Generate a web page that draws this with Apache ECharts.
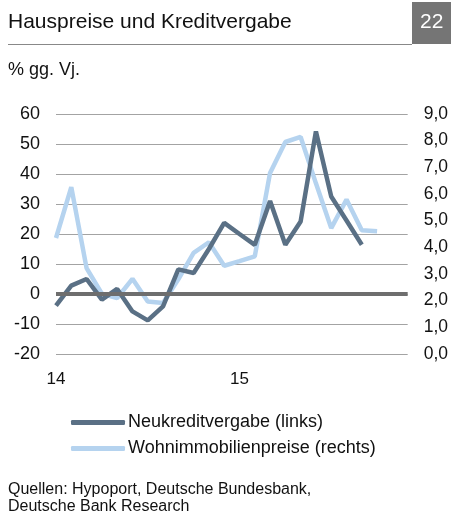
<!DOCTYPE html>
<html>
<head>
<meta charset="utf-8">
<script src="https://cdn.jsdelivr.net/npm/echarts@6/dist/echarts.min.js"></script>
<style>
  html, body { margin: 0; padding: 0; background: #fff; }
  #chart { width: 451px; height: 513px; }
</style>
</head>
<body>
<div id="chart"></div>
<script>
// Monate Jan 2014 - Dez 2015
const months = ["14", "", "", "", "", "", "", "", "", "", "", "",
  "15", "", "", "", "", "", "", "", "", "", "", ""];
// Neukreditvergabe, % gg. Vj. (linke Achse)
const neukredit = [-3.9, 2.8, 5.0, -1.9, 1.7, -5.8, -8.8, -4.1, 8.2, 7.0, 15.0, 23.7,
  20.0, 16.4, 31.0, 16.4, 24.2, 54.2, 32.5, 24.5, 16.4];
// Wohnimmobilienpreise, % gg. Vj. (rechte Achse)
const wohnpreise = [4.35, 6.26, 3.22, 2.26, 2.1, 2.82, 1.97, 1.91, 2.8, 3.79, 4.19, 3.31,
  3.48, 3.66, 6.79, 7.95, 8.14, 6.4, 4.72, 5.79, 4.64, 4.6];
const leftTicks = [-20, 60, 10];
const rightTicks = [0, 9, 1];

const font = "'Liberation Sans', Arial, sans-serif";
const chart = echarts.init(document.getElementById("chart"));
chart.setOption({
  animation: false,
  textStyle: { fontFamily: font },
  grid: { left: 56, right: 43, top: 114, bottom: 159 },
  graphic: [
    { type: "text", left: 8, top: 12, style: { text: "Hauspreise und Kreditvergabe", font: "21px " + font, fill: "#111" } },
    { type: "rect", shape: { x: 412, y: 2, width: 39, height: 42 }, style: { fill: "#757575" } },
    { type: "text", left: 420, top: 12, style: { text: "22", font: "21px " + font, fill: "#fff" } },
    { type: "line", shape: { x1: 8, y1: 44.5, x2: 412, y2: 44.5 }, style: { stroke: "#888", lineWidth: 1 } },
    { type: "text", left: 8, top: 61, style: { text: "% gg. Vj.", font: "18px " + font, fill: "#111" } },
    { type: "text", left: 8, top: 481, style: { text: "Quellen: Hypoport, Deutsche Bundesbank,\nDeutsche Bank Research", font: "16px " + font, fill: "#111", lineHeight: 17 } }
  ],
  legend: {
    orient: "vertical",
    left: 66,
    top: 408,
    itemWidth: 54,
    itemHeight: 5,
    itemGap: 7,
    icon: "roundRect",
    textStyle: { fontSize: 18, lineHeight: 19, color: "#111", fontFamily: font, padding: [0, 0, 0, -2] },
    data: ["Neukreditvergabe (links)", "Wohnimmobilienpreise (rechts)"]
  },
  xAxis: {
    type: "category",
    data: months,
    boundaryGap: false,
    axisLine: { show: false },
    axisTick: { show: false },
    axisLabel: { interval: 0, color: "#111", fontSize: 17, margin: 17 },
    splitLine: { show: false }
  },
  yAxis: [
    {
      type: "value",
      min: leftTicks[0], max: leftTicks[1], interval: leftTicks[2],
      axisLine: { show: false },
      axisTick: { show: false },
      axisLabel: { color: "#111", fontSize: 18, margin: 16 },
      splitLine: { lineStyle: { color: "#a3a3a3", width: 1 } }
    },
    {
      type: "value",
      min: rightTicks[0], max: rightTicks[1], interval: rightTicks[2],
      position: "right",
      axisLine: { show: false },
      axisTick: { show: false },
      axisLabel: {
        color: "#111", fontSize: 17.5, margin: 16,
        formatter: v => v.toFixed(1).replace(".", ",")
      },
      splitLine: { show: false }
    }
  ],
  series: [
    {
      name: "Neukreditvergabe (links)",
      type: "line",
      yAxisIndex: 0,
      data: neukredit,
      symbol: "none",
      z: 3,
      lineStyle: { color: "#5a7085", width: 4.5 },
      itemStyle: { color: "#5a7085" },
      markLine: {
        silent: true,
        symbol: "none",
        label: { show: false },
        lineStyle: { color: "#6e6e6e", width: 4, type: "solid" },
        data: [{ yAxis: 0 }]
      }
    },
    {
      name: "Wohnimmobilienpreise (rechts)",
      type: "line",
      yAxisIndex: 1,
      data: wohnpreise,
      symbol: "none",
      z: 2,
      lineStyle: { color: "#b5d3ef", width: 4.5 },
      itemStyle: { color: "#b5d3ef" }
    }
  ]
});
</script>
</body>
</html>
